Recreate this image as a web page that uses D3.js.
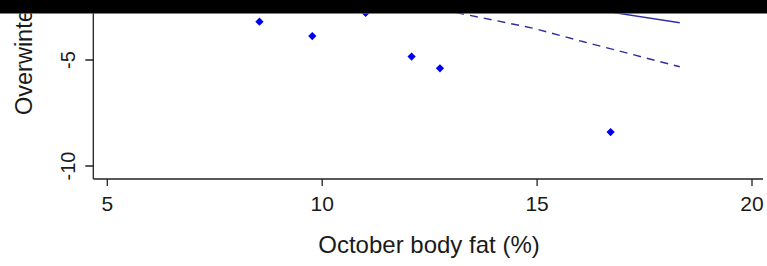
<!DOCTYPE html>
<html><head><meta charset="utf-8">
<script src="https://cdn.jsdelivr.net/npm/d3@7"></script>
<style>html,body{margin:0;padding:0;background:#fff;overflow:hidden}svg{display:block}</style>
</head><body>
<script>
// Data
const xTicks = [5, 10, 15, 20];
const yTicks = [-5, -10];
const fatPct = [8.54, 9.77, 11.01, 12.08, 12.74, 16.71];
const overwinter = [-3.19, -3.87, -2.78, -4.84, -5.39, -8.40];
const solidX = [16.0, 18.32];
const solidY = [-2.52, -3.24];
const dashX = [12.8, 13.28, 14.91, 16.08, 18.32];
const dashY = [-2.63, -2.83, -3.50, -4.14, -5.32];

const W = 767, H = 266, barH = 13.5;
const svg = d3.select("body").append("svg").attr("width", W).attr("height", H);
const font = "'Liberation Sans', Arial, sans-serif";

const x = d3.scaleLinear().domain([5, 20]).range([107.3, 752]);
const y = d3.scaleLinear().domain([-5, -10]).range([60, 166]);
const axisY = 179, axisX = 93.3, rightX = 763;

svg.append("defs").append("clipPath").attr("id", "below")
  .append("rect").attr("x", 0).attr("y", barH).attr("width", W).attr("height", H - barH);

const g = svg.append("g").attr("clip-path", "url(#below)");

// axes lines
g.append("line").attr("x1", axisX).attr("x2", rightX).attr("y1", axisY).attr("y2", axisY)
  .attr("stroke", "#222").attr("stroke-width", 1.3);
g.append("line").attr("x1", axisX).attr("x2", axisX).attr("y1", 0).attr("y2", axisY)
  .attr("stroke", "#222").attr("stroke-width", 1.3);

// x ticks
const xt = g.append("g");
xTicks.forEach(t => {
  xt.append("line").attr("x1", x(t)).attr("x2", x(t)).attr("y1", axisY).attr("y2", axisY + 7)
    .attr("stroke", "#222").attr("stroke-width", 1.3);
  xt.append("text").attr("x", x(t)).attr("y", 210.5).attr("text-anchor", "middle")
    .attr("font-family", font).attr("font-size", 21).attr("fill", "#1a1a1a").text(t);
});
// y ticks
yTicks.forEach(t => {
  g.append("line").attr("x1", axisX - 8).attr("x2", axisX).attr("y1", y(t)).attr("y2", y(t))
    .attr("stroke", "#222").attr("stroke-width", 1.3);
  g.append("text").attr("transform", `translate(75,${y(t)}) rotate(-90)`).attr("text-anchor", "middle")
    .attr("font-family", font).attr("font-size", 20).attr("fill", "#1a1a1a").text(t);
});

// axis titles
g.append("text").attr("x", 429).attr("y", 253).attr("text-anchor", "middle")
  .attr("font-family", font).attr("font-size", 24).attr("fill", "#1a1a1a").text("October body fat (%)");
g.append("text").attr("transform", `translate(32,115) rotate(-90)`).attr("text-anchor", "start")
  .attr("font-family", font).attr("font-size", 23.5).attr("fill", "#1a1a1a").text("Overwinter mass change (%)");

// lines
const line = d3.line().x(d => x(d[0])).y(d => y(d[1]));
g.append("path").attr("d", line(d3.zip(solidX, solidY))).attr("fill", "none")
  .attr("stroke", "#2e2ea0").attr("stroke-width", 1.4);
g.append("path").attr("d", line(d3.zip(dashX, dashY))).attr("fill", "none")
  .attr("stroke", "#2e2ea0").attr("stroke-width", 1.4).attr("stroke-dasharray", "8,6");

// points
const sym = d3.symbol(d3.symbolSquare, 34);
g.selectAll(".pt").data(d3.zip(fatPct, overwinter)).join("path")
  .attr("transform", d => `translate(${x(d[0])},${y(d[1])}) rotate(45)`)
  .attr("d", sym).attr("fill", "#0000ee");

// top black band
svg.append("rect").attr("x", 0).attr("y", 0).attr("width", W).attr("height", barH).attr("fill", "#000");
</script>
</body></html>
